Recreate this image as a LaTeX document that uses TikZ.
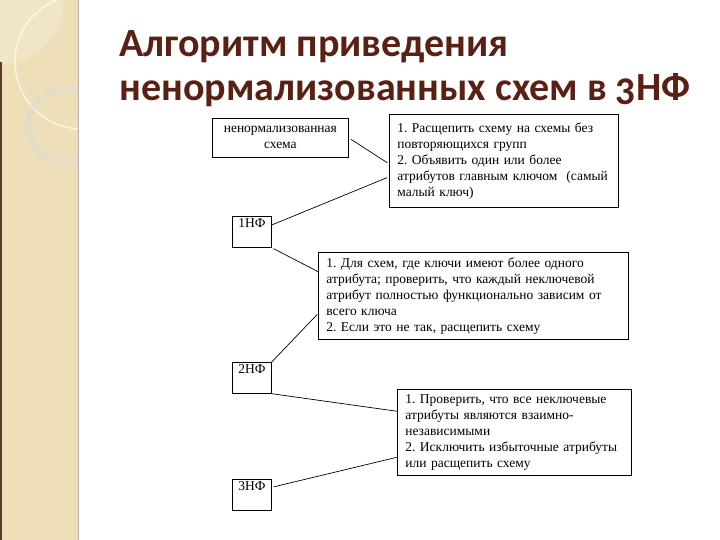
\documentclass[tikz,border=0pt]{standalone}
\usepackage{fontspec}
\setmainfont{Liberation Serif}
\newfontfamily\titlefont{Carlito}
\usepackage{xcolor}
\usetikzlibrary{positioning}
\definecolor{titlebrown}{HTML}{5A2014}
\definecolor{stripbeige}{HTML}{EEDFB9}
\definecolor{stripedge}{HTML}{5A3A22}
\frenchspacing

\begin{document}
\begin{tikzpicture}[x=1pt,y=-1pt,font=\fontsize{13.5}{16}\selectfont,line width=0.7pt,
  nfbox/.style={draw,minimum width=39pt,inner sep=3pt,text height=8pt,text depth=17pt},
  notebox/.style={draw,inner xsep=8pt,inner ysep=5pt,align=left,anchor=north west}]
\useasboundingbox (0,0) rectangle (720,540);
% side strip
\fill[stripbeige] (0,0) rectangle (78,540);
\begin{scope}
\clip (0,0) rectangle (78,540);
\fill[white,opacity=0.2] (0,0) circle (64);
\draw[white,line width=1.3pt,opacity=0.75] (82,62) circle (67);
\draw[black!14,line width=7pt,opacity=0.45] (64,125) circle (36);
\end{scope}
\fill[stripedge] (0,62) rectangle (2,540);
\draw[black!30,line width=0.8pt] (78.5,0) -- (78.5,540);
% title
\node[anchor=base west,inner sep=0pt,font=\titlefont\bfseries\fontsize{40}{44}\selectfont,text=titlebrown] (t1) at (119,57) {Алгоритм приведения};
\node[anchor=base west,inner sep=0pt,font=\titlefont\bfseries\fontsize{40}{44}\selectfont,text=titlebrown] (t2) at (119,101) {ненормализованных схем в {\addfontfeatures{Numbers=OldStyle}3}НФ};
% forms
\node[draw,minimum width=136pt,minimum height=39pt,inner sep=2pt,align=center,anchor=north west] (un) at (212,118)
  {ненормализованная\\схема};
\node[nfbox,anchor=north west] (nf1) at (232,216) {1НФ};
\node[nfbox,anchor=north west] (nf2) at (232,362) {2НФ};
\node[nfbox,anchor=north west] (nf3) at (232,479) {3НФ};
% steps
\node[notebox,text width=213pt,minimum height=93pt] (s1) at (389,114)
  {1. Расщепить схему на схемы без\\повторяющихся групп\\2. Объявить один или более\\атрибутов главным ключом~~(самый\\малый ключ)};
\node[notebox,text width=294pt,minimum height=85pt] (s2) at (318,252)
  {1. Для схем, где ключи имеют более одного\\атрибута; проверить, что каждый неключевой\\атрибут полностью функционально зависим от\\всего ключа\\2. Если это не так, расщепить схему};
\node[notebox,text width=218pt,minimum height=85pt] (s3) at (397,389)
  {1. Проверить, что все неключевые\\атрибуты являются взаимно-\\независимыми\\2. Исключить избыточные атрибуты\\или расщепить схему};
% connectors
\draw[shorten <=3pt,shorten >=2pt] (un.east) -- ([yshift=-3pt]s1.west);
\draw[shorten >=2pt] ([yshift=-9pt]nf1.north east) -- ([yshift=-16pt]s1.west);
\draw[shorten <=2pt] (nf1.south east) -- ([yshift=24pt]s2.west);
\draw[shorten <=1pt] ([yshift=-18pt]s2.west) -- (nf2.north east);
\draw (nf2.south east) -- ([yshift=21pt]s3.west);
\draw ([yshift=-25pt]s3.west) -- ([yshift=8pt,xshift=2pt]nf3.east);
\end{tikzpicture}
\end{document}
